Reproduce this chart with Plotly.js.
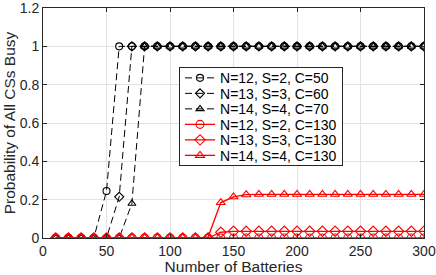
<!DOCTYPE html>
<html>
<head>
<meta charset="utf-8">
<script src="https://cdn.plot.ly/plotly-3.0.1.min.js"></script>
<style>html,body{margin:0;padding:0;background:#fff;}#chart{width:436px;height:275px;}</style>
</head>
<body>
<div id="chart"></div>
<script>
// Number of batteries (x values)
const batteries = [10,20,30,40,50,60,70,80,90,100,110,120,130,140,150,160,170,180,190,200,210,220,230,240,250,260,270,280,290,300];

// Series values (probability of all CSs busy)
const n12s2c50  = [0,0,0,0,0.245,1,1,1,1,1,1,1,1,1,1,1,1,1,1,1,1,1,1,1,1,1,1,1,1,1];
const n13s3c60  = [0,0,0,0,0,0.215,1,1,1,1,1,1,1,1,1,1,1,1,1,1,1,1,1,1,1,1,1,1,1,1];
const n14s4c70  = [0,0,0,0,0,0,0.18,1,1,1,1,1,1,1,1,1,1,1,1,1,1,1,1,1,1,1,1,1,1,1];
const n12s2c130 = [0,0,0,0,0,0,0,0,0,0,0,0,0,0,0,0,0,0,0,0,0,0,0,0,0,0,0,0,0,0];
const n13s3c130 = [0,0,0,0,0,0,0,0,0,0,0,0,0,0.03,0.035,0.035,0.035,0.035,0.035,0.035,0.035,0.035,0.035,0.035,0.035,0.035,0.035,0.035,0.035,0.035];
const n14s4c130 = [0,0,0,0,0,0,0,0,0,0,0,0,0.005,0.185,0.215,0.226,0.228,0.228,0.228,0.228,0.228,0.228,0.228,0.228,0.228,0.228,0.228,0.228,0.228,0.228];

// Tick labels
const xTicks = [0,50,100,150,200,250,300];
const yTicks = [0,0.2,0.4,0.6,0.8,1,1.2];

const names = ["N=12, S=2, C=50","N=13, S=3, C=60","N=14, S=4, C=70","N=12, S=2, C=130","N=13, S=3, C=130","N=14, S=4, C=130"];
const series = [n12s2c50, n13s3c60, n14s4c70, n12s2c130, n13s3c130, n14s4c130];
const symbols = ["circle-open","diamond-open","triangle-up-open","circle-open","diamond-open","triangle-up-open"];
const colors = ["#000000","#000000","#000000","#ff0000","#ff0000","#ff0000"];

const traces = series.map((ys, i) => ({
  x: batteries, y: ys, name: names[i], type: 'scatter', mode: 'lines+markers',
  line: {color: colors[i], width: i < 3 ? 1 : 1.3, dash: i < 3 ? '7px,4px' : 'solid'},
  marker: {symbol: symbols[i], size: i < 3 ? 7 : 8, color: colors[i], line: {color: colors[i], width: 1.1}}
}));

const FONT = 'Liberation Sans, Arial, sans-serif';
const axisCommon = {
  showgrid: true, gridcolor: '#e3e3e3', gridwidth: 1,
  showline: true, linecolor: '#262626', linewidth: 1, mirror: 'ticks',
  ticks: 'inside', ticklen: 4, tickcolor: '#262626',
  zeroline: false, ticklabeloverflow: 'allow',
  tickfont: {family: FONT, size: 14, color: '#262626'}
};

const layout = {
  width: 436, height: 275,
  margin: {l: 43, r: 12, t: 8, b: 37},
  paper_bgcolor: '#ffffff', plot_bgcolor: '#ffffff',
  showlegend: true,
  legend: {
    x: 0.357, y: 0.743, xanchor: 'left', yanchor: 'top',
    bgcolor: '#ffffff', bordercolor: '#262626', borderwidth: 1,
    font: {family: FONT, size: 14, color: '#000000'},
    tracegroupgap: 0
  },
  xaxis: Object.assign({}, axisCommon, {
    range: [0, 300], tickvals: xTicks,
    title: {text: 'Number of Batteries', font: {family: FONT, size: 15.5, color: '#262626'}, standoff: 4}
  }),
  yaxis: Object.assign({}, axisCommon, {
    range: [0, 1.2], tickvals: yTicks,
    title: {text: 'Probability of All CSs Busy', font: {family: FONT, size: 15.5, color: '#262626'}, standoff: 0}
  })
};

Plotly.newPlot('chart', traces, layout, {displayModeBar: false, staticPlot: true}).then(gd => {
  // compress legend row spacing to match the compact reference legend
  const leg = gd.querySelector('g.legend');
  if (!leg) return;
  const items = leg.querySelectorAll('g.traces');
  const rowH = 15.5;
  const pad = 2;
  items.forEach((g, i) => {
    const t = g.getAttribute('transform') || '';
    const m = /translate\(\s*([-\d.e]+)[ ,]+([-\d.e]+)\s*\)/.exec(t);
    const x = m ? parseFloat(m[1]) : 0;
    g.setAttribute('transform', 'translate(' + x + ',' + (pad + rowH / 2 + 1 + i * rowH) + ')');
  });
  const totalH = pad * 2 + rowH * items.length + 1;
  leg.querySelectorAll('rect.bg').forEach(r => r.setAttribute('height', totalH));
  const sb = leg.querySelector('g.scrollbox');
  if (sb) sb.removeAttribute('clip-path');
});
</script>
</body>
</html>
